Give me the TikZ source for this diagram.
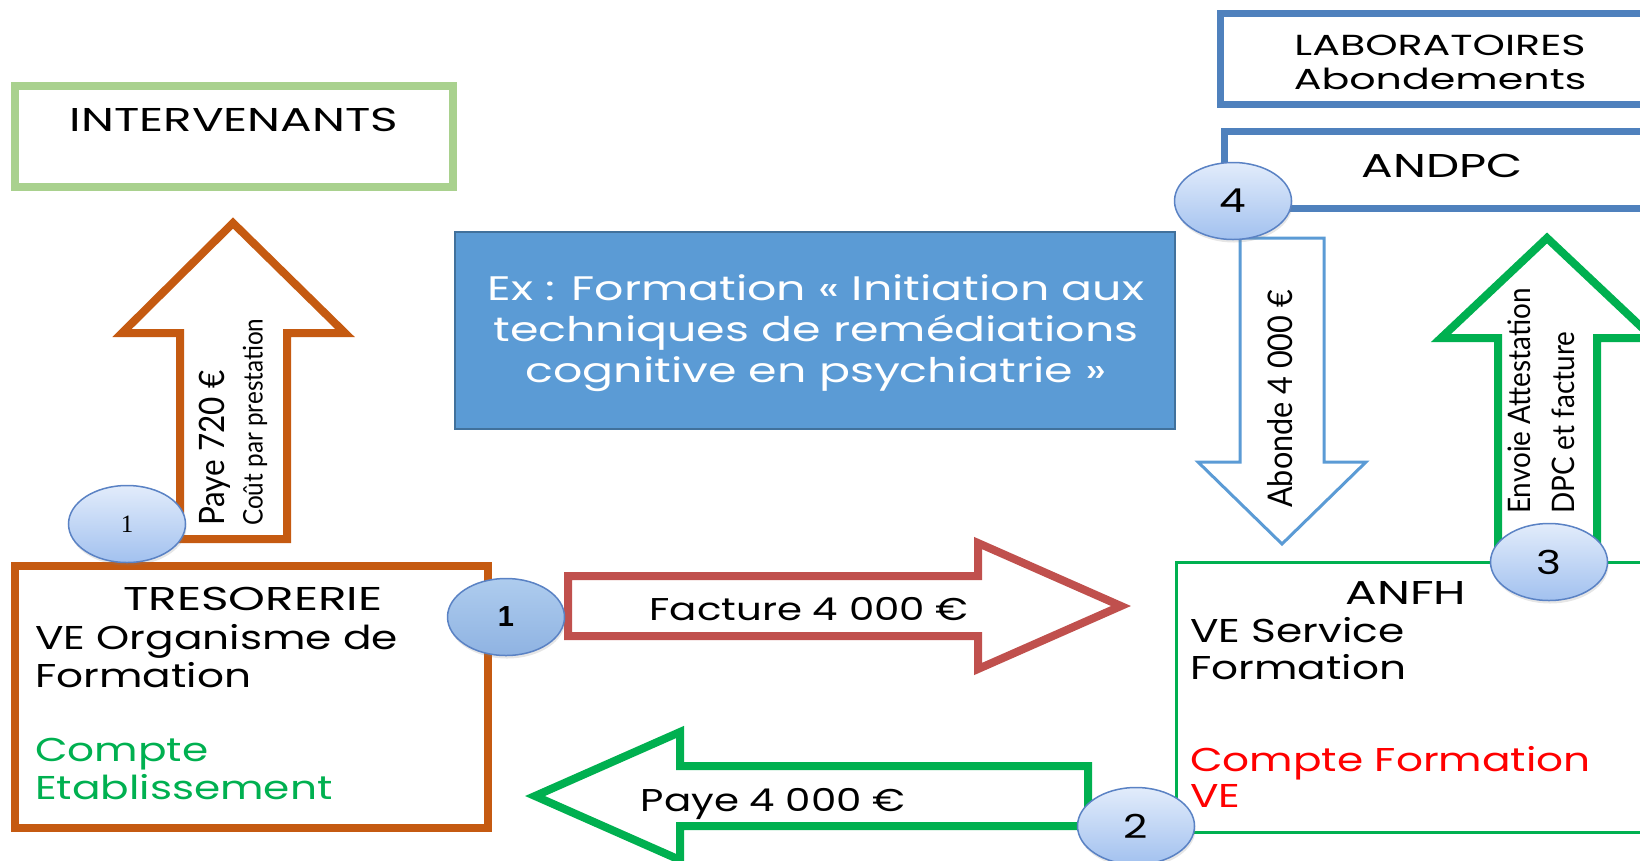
\documentclass[tikz,border=0pt]{standalone}
\usepackage{fontspec}
\setmainfont{Poppins}[FakeStretch=1.28]
\newfontfamily\capsfont{Poppins}[FakeStretch=1.42]
\newfontfamily\bleufont{Poppins}[FakeStretch=1.35]
\newfontfamily\etroit{Lato}[FakeStretch=0.9]
\newfontfamily\chiffre{Liberation Sans}
\newfontfamily\serifnum{Liberation Serif}
\usetikzlibrary{shapes.geometric,positioning,shadows}
\definecolor{vertclair}{HTML}{A9D18E}
\definecolor{orangef}{HTML}{C55A11}
\definecolor{bleuboite}{HTML}{5B9BD5}
\definecolor{bleubord}{HTML}{41719C}
\definecolor{bleulabo}{HTML}{4F81BD}
\definecolor{vertf}{HTML}{00B050}
\definecolor{rougef}{HTML}{C0504D}
\definecolor{rougevif}{HTML}{FF0000}
\definecolor{bulletrait}{HTML}{5A82C4}
\definecolor{bullehaut}{HTML}{E2ECFB}
\definecolor{bullebas}{HTML}{A2C1EF}
\definecolor{bulleA}{HTML}{AECCEE}
\definecolor{bulleB}{HTML}{8FB3E2}
\tikzset{
  bulle/.style={ellipse, draw=bulletrait, line width=1.5, inner sep=0pt,
    minimum width=117, minimum height=77, top color=bullehaut, bottom color=bullebas,
    drop shadow={opacity=0.2, shadow xshift=1pt, shadow yshift=-3pt}},
  grossebulle/.style={bulle, top color=bulleA, bottom color=bulleB},
  fleche/.style={line width=8, line join=miter, fill=white},
  vertical/.style={rotate=90, anchor=west, inner sep=0pt},
  titre/.style={anchor=base, font=\capsfont\fontsize{33}{37.5}\selectfont},
  legende/.style={anchor=base, font=\fontsize{31.5}{36}\selectfont},
}
\begin{document}
\begin{tikzpicture}[x=1pt, y=-1pt,
  every node/.style={inner sep=0pt, font=\fontsize{33}{37.5}\selectfont}]
  \clip (0,0) rectangle (1640,860);

  % cadres
  \draw[vertclair, line width=8] (15,86) rectangle (453,187);
  \node[titre] (interv) at (234,131) {INTERVENANTS};

  \draw[orangef, line width=8] (15,566) rectangle (488,828);
  \node[titre] (treso) at (253,610) {TRESORERIE};
  \node[anchor=base west] (tresoA) at (35,649) {VE Organisme de};
  \node[anchor=base west] (tresoB) at (35,687) {Formation};
  \node[anchor=base west, text=vertf] (tresoC) at (35,761) {Compte};
  \node[anchor=base west, text=vertf] (tresoD) at (35,799) {Etablissement};

  \draw[bleubord, fill=bleuboite, line width=2.5] (455,232) rectangle (1175,429);
  \node[align=center, text=white, font=\bleufont\fontsize{34}{41}\selectfont] (ex) at (816,333)
    {Ex : Formation « Initiation aux\\techniques de remédiations\\cognitive en psychiatrie »};

  \draw[bleulabo, line width=7] (1220,13) rectangle (1700,104);
  \node[titre, font=\capsfont\fontsize{29}{34}\selectfont] (labo) at (1440,55) {LABORATOIRES};
  \node[titre, font=\capsfont\fontsize{29}{34}\selectfont] (abond) at (1440,89) {Abondements};

  \draw[bleulabo, line width=7] (1224,131) rectangle (1700,208);
  \node[titre] (andpc) at (1442,177) {ANDPC};

  \draw[vertf, line width=3] (1176,562) rectangle (1700,832);
  \node[titre] (anfh) at (1406,604) {ANFH};
  \node[anchor=base west] (anfhA) at (1190,642) {VE Service};
  \node[anchor=base west] (anfhB) at (1190,679) {Formation};
  \node[anchor=base west, text=rougevif] (anfhC) at (1190,771) {Compte Formation};
  \node[anchor=base west, text=rougevif] (anfhD) at (1190,807) {VE};

  % fleches
  \draw[orangef, fleche] (180,539) -- (180,333) -- (122,333) -- (233,223) -- (345,333) -- (287,333) -- (287,539) -- cycle;
  \node[vertical, font=\etroit\fontsize{35}{35}\selectfont] (paye) at (215,526) {Paye 720 €};
  \node[vertical, font=\etroit\fontsize{27}{27}\selectfont] (cout) at (255,526) {Coût par prestation};

  \draw[bleuboite, line width=3, fill=white] (1240,238) -- (1240,462) -- (1198,462) -- (1282,544) -- (1366,462) -- (1324,462) -- (1324,238) -- cycle;
  \node[vertical, font=\etroit\fontsize{34}{34}\selectfont] (abonde) at (1280,508) {Abonde 4 000 €};

  \draw[vertf, fleche] (1498,544) -- (1498,338) -- (1441,338) -- (1547,238) -- (1653,338) -- (1597,338) -- (1597,544) -- cycle;
  \node[vertical, font=\etroit\fontsize{31}{31}\selectfont] (envoie) at (1519,514) {Envoie Attestation};
  \node[vertical, font=\etroit\fontsize{31}{31}\selectfont] (dpc) at (1563,514) {DPC et facture};

  \draw[rougef, fleche] (568,576) -- (978,576) -- (978,543) -- (1121,606) -- (978,669) -- (978,636) -- (568,636) -- cycle;
  \node[legende] (facture) at (809,620) {Facture 4 000 €};

  \draw[vertf, fleche] (1088,766) -- (680,766) -- (680,732) -- (535,796) -- (680,860) -- (680,826) -- (1088,826) -- cycle;
  \node[legende] (payeq) at (773,811) {Paye 4 000 €};

  % numeros
  \node[bulle] (un) at (127,524) {\serifnum\fontsize{25}{25}\selectfont 1};
  \node[grossebulle] (unb) at (506,617) {\chiffre\bfseries\fontsize{29}{29}\selectfont 1};
  \node[bulle] (deux) at (1136,826) {2};
  \node[bulle] (trois) at (1549,562) {3};
  \node[bulle] (quatre) at (1233,201) {4};
\end{tikzpicture}
\end{document}
